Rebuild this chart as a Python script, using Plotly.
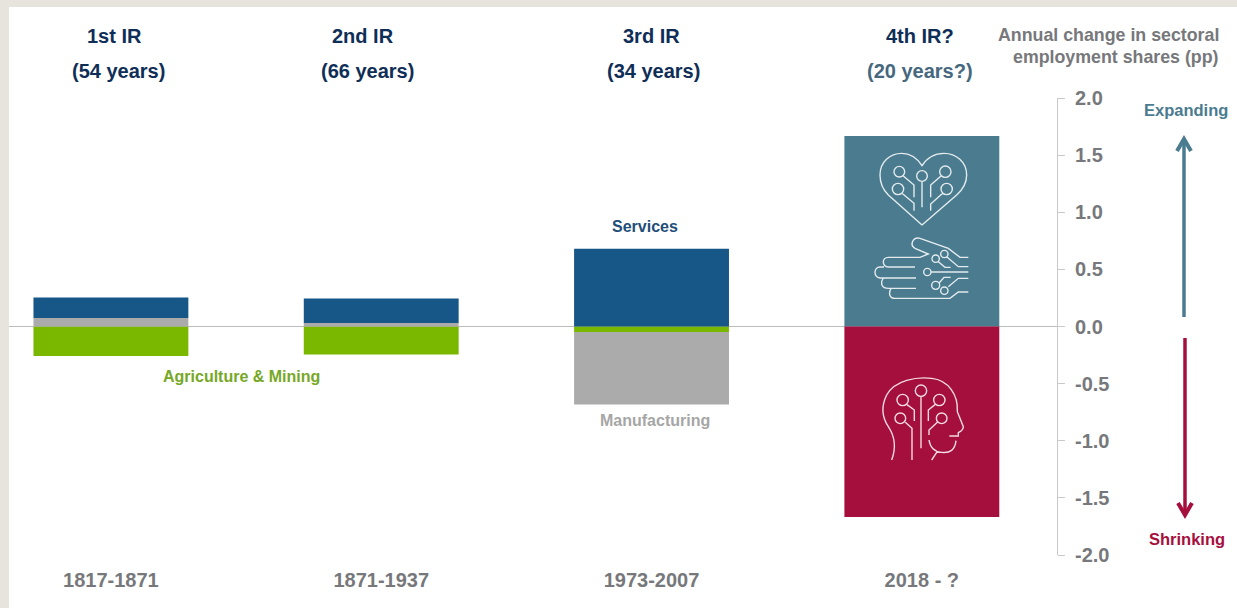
import plotly.graph_objects as go

W, H = 1237, 608

# ---- data ----
positions = [0, 1, 2, 3]
period_labels = ["1817-1871", "1871-1937", "1973-2007", "2018 - ?"]
revolutions = ["1st IR", "2nd IR", "3rd IR", "4th IR?"]
durations = ["(54 years)", "(66 years)", "(34 years)", "(20 years?)"]
agriculture = [-0.258, -0.245, -0.048, None]
manufacturing = [0.074, 0.030, -0.635, None]
services = [0.180, 0.215, 0.680, None]
expanding = [None, None, None, 1.667]
shrinking = [None, None, None, -1.667]
y_tick_vals = [2.0, 1.5, 1.0, 0.5, 0.0, -0.5, -1.0, -1.5, -2.0]
y_tick_text = ["2.0", "1.5", "1.0", "0.5", "0.0", "-0.5", "-1.0", "-1.5", "-2.0"]

# ---- styles ----
NAVY = "#0F2E57"
GREY_TXT = "#77787B"
BLUE = "#165788"
GREY = "#ABABAB"
GREEN = "#7AB800"
TEAL = "#4A7B8F"
CRIMSON = "#A50F3E"
FONT = "Liberation Sans"


def px(x):
    return x / W


def py(y):
    return 1 - y / H


def fig_path(segments, ox, oy, scale=1 / 3):
    """Turn an icon drawing (in zoomed pixel units) into a paper-coordinate SVG path."""
    out = []
    for cmd, pts in segments:
        if cmd == "L":
            for a, b in pts:
                out.append(f"L{px(ox + a * scale):.5f},{py(oy + b * scale):.5f}")
        else:
            coords = " ".join(f"{px(ox + a * scale):.5f},{py(oy + b * scale):.5f}" for a, b in pts)
            out.append(f"{cmd}{coords}")
    return " ".join(out)


def circle(cx, cy, r):
    k = 0.5523 * r
    return [
        ("M", [(cx + r, cy)]),
        ("C", [(cx + r, cy + k), (cx + k, cy + r), (cx, cy + r)]),
        ("C", [(cx - k, cy + r), (cx - r, cy + k), (cx - r, cy)]),
        ("C", [(cx - r, cy - k), (cx - k, cy - r), (cx, cy - r)]),
        ("C", [(cx + k, cy - r), (cx + r, cy - k), (cx + r, cy)]),
    ]


def poly(*pts):
    return [("M", [pts[0]])] + [("L", [p]) for p in pts[1:]]


heart = (
    [("M", [(306, 315)]), ("L", [(205, 225)]),
     ("C", [(187, 207), (180, 186), (180, 165)]),
     ("C", [(180, 125), (210, 100), (245, 100)]),
     ("C", [(270, 100), (292, 115), (306, 137)]),
     ("C", [(320, 115), (342, 100), (372, 100)]),
     ("C", [(408, 100), (440, 125), (440, 165)]),
     ("C", [(440, 186), (430, 207), (410, 225)]),
     ("L", [(306, 315)])]
    + circle(238, 155, 16) + circle(306, 168, 16) + circle(376, 155, 17)
    + circle(234, 207, 17) + circle(380, 207, 17)
    + poly((306, 184), (306, 262))
    + poly((250, 168), (282, 195), (282, 232))
    + poly((246, 220), (282, 250), (282, 272))
    + poly((363, 168), (332, 195), (332, 232))
    + poly((368, 220), (332, 252), (332, 272))
)

hand = (
    [("M", [(445, 412)]), ("L", [(420, 412), (385, 385), (300, 355)]),
     ("C", [(278, 350), (268, 375), (285, 385)]), ("L", [(325, 402), (300, 412), (205, 412)]),
     ("C", [(185, 412), (185, 440), (205, 441)]), ("L", [(285, 441)]),
     ("M", [(192, 441)]), ("L", [(180, 441)]),
     ("C", [(160, 441), (160, 473), (180, 474)]), ("L", [(288, 474)]),
     ("M", [(190, 474)]), ("C", [(180, 490), (185, 505), (205, 505)]), ("L", [(288, 505)]),
     ("M", [(213, 505)]), ("C", [(205, 520), (208, 535), (225, 535)]),
     ("L", [(390, 535), (415, 516), (445, 516)])]
    + circle(373, 402, 11) + circle(347, 416, 11) + circle(322, 456, 11)
    + circle(347, 496, 12) + circle(373, 512, 11)
    + poly((380, 410), (415, 440), (445, 440))
    + poly((355, 425), (375, 442), (392, 442))
    + poly((333, 456), (445, 456))
    + poly((385, 500), (415, 475), (445, 475))
    + poly((358, 488), (372, 472), (392, 472))
)

head = (
    [("M", [(215, 420)]), ("C", [(230, 380), (225, 350), (205, 320)]),
     ("C", [(185, 290), (185, 255), (200, 225)]),
     ("C", [(225, 180), (290, 170), (335, 175)]),
     ("C", [(385, 180), (415, 225), (412, 275)]),
     ("L", [(430, 320)]), ("C", [(430, 330), (420, 335), (415, 338)]),
     ("L", [(415, 348), (388, 348)]),
     ("M", [(408, 362)]), ("C", [(405, 390), (390, 400), (365, 397)]),
     ("L", [(350, 397), (335, 420)]),
     ("M", [(327, 360)]), ("C", [(330, 380), (340, 395), (365, 397)])]
    + circle(303, 212, 17) + circle(248, 240, 17) + circle(358, 240, 17)
    + circle(241, 295, 16) + circle(365, 295, 16)
    + poly((303, 229), (303, 385))
    + poly((261, 254), (283, 270), (283, 303))
    + poly((345, 254), (325, 270), (325, 303))
    + poly((256, 307), (276, 325), (276, 420))
    + poly((352, 307), (327, 330), (327, 345))
)

fig = go.Figure()
BAR_W = 0.573
for name, vals, col in [
    ("Agriculture & Mining", agriculture, GREEN),
    ("Manufacturing", manufacturing, GREY),
    ("Services", services, BLUE),
    ("Expanding", expanding, TEAL),
    ("Shrinking", shrinking, CRIMSON),
]:
    fig.add_bar(x=positions, y=vals, name=name, marker=dict(color=col, line_width=0), width=BAR_W,
                hoverinfo="skip")


def text(t, x, y, size, color, anchor="center"):
    return dict(text=f"<b>{t}</b>", x=px(x), y=py(y), xref="paper", yref="paper", xanchor=anchor,
                yanchor="middle", showarrow=False, align=anchor if anchor != "center" else "center",
                font=dict(family=FONT, size=size, color=color))


annotations = []
for i, cx in enumerate([114, 363, 651, 920]):
    annotations.append(text(revolutions[i], cx, 36, 20, NAVY))
for i, cx in enumerate([118, 367.5, 653.5, 920]):
    annotations.append(text(durations[i], cx, 71, 20, "#46687E" if i == 3 else NAVY))
annotations += [
    text("Annual change in sectoral", 1220.5, 35, 17.8, GREY_TXT, "right"),
    text("employment shares (pp)", 1220.5, 57, 17.8, GREY_TXT, "right"),
    text("Services", 644.5, 226, 16, "#1F4E79"),
    text("Agriculture &amp; Mining", 241, 376, 16, "#76A826"),
    text("Manufacturing", 655.5, 420, 16, "#A6A6A6"),
    text("Expanding", 1186, 110, 16.5, TEAL),
    text("Shrinking", 1187, 539, 16.5, CRIMSON),
]


def line_path(*pts):
    return "M" + " L".join(f"{px(a):.5f},{py(b):.5f}" for a, b in pts)


def pshape(path, color, width, layer="above"):
    return dict(type="path", xref="paper", yref="paper", path=path, layer=layer,
                line=dict(color=color, width=width))


ICON = "rgba(255,255,255,0.85)"
shapes = [
    dict(type="rect", xref="paper", yref="paper", x0=px(9), x1=1, y0=0, y1=py(7),
         fillcolor="white", line_width=0, layer="below"),
    pshape(fig_path(heart, 820, 120), ICON, 1.4),
    pshape(fig_path(hand, 820, 120), ICON, 1.4),
    pshape(fig_path(head, 820, 320), ICON, 1.4),
    pshape(line_path((1184, 317), (1184, 141)), TEAL, 3.5),
    pshape(line_path((1177, 151), (1184, 139), (1191, 151)), TEAL, 4),
    pshape(line_path((1185, 338), (1185, 513)), CRIMSON, 3.5),
    pshape(line_path((1178, 503), (1185, 515), (1192, 503)), CRIMSON, 4),
]

fig.update_layout(
    width=W, height=H, barmode="relative", showlegend=False,
    margin=dict(l=0, r=0, t=0, b=0, pad=0),
    paper_bgcolor="#E7E4DD", plot_bgcolor="rgba(0,0,0,0)",
    font=dict(family=FONT),
    xaxis=dict(domain=[px(9), px(1057)], range=[-0.377, 3.5], tickmode="array", automargin=False,
               tickvals=positions, ticktext=period_labels, showgrid=False, zeroline=False,
               showline=False, ticks="", ticklabelstandoff=11, anchor="y",
               tickfont=dict(family=FONT, size=20, color=GREY_TXT, weight=700)),
    yaxis=dict(domain=[py(555), py(98)], range=[-2, 2], side="right", anchor="x", automargin=False,
               tickmode="array", tickvals=y_tick_vals, ticktext=y_tick_text,
               showgrid=False, showline=True, linecolor="#C9C9C9", linewidth=1,
               ticks="outside", ticklen=7, tickcolor="#C9C9C9", tickwidth=1,
               zeroline=True, zerolinecolor="#BDBDBD", zerolinewidth=1,
               ticklabelstandoff=6,
               tickfont=dict(family=FONT, size=20, color=GREY_TXT, weight=700)),
    annotations=annotations, shapes=shapes,
)

fig.write_html("out.html", config={"displayModeBar": False},
               post_script="document.body.style.margin='0';document.documentElement.style.overflow='hidden';")
